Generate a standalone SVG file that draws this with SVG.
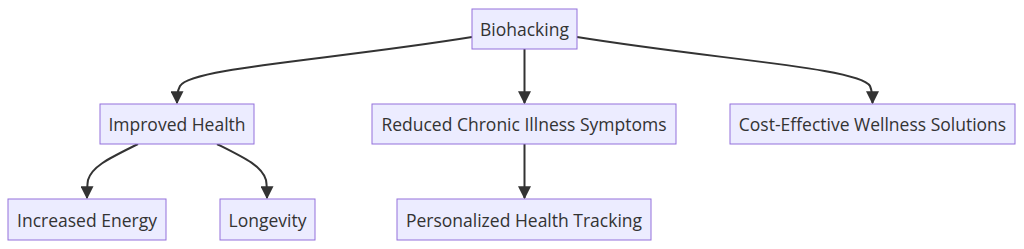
<svg xmlns="http://www.w3.org/2000/svg" width="1024" height="249" viewBox="0 0 1024 249">
<style>
.node rect{fill:#ECECFF;stroke:#9370DB;stroke-width:1}
.node text{font-family:"Open Sans","Noto Sans","DejaVu Sans",sans-serif;font-size:17.5px;fill:#333;text-anchor:middle;dominant-baseline:central}
.edge{fill:none;stroke:#333;stroke-width:2;marker-end:url(#arrow)}
</style>
<defs>
<marker id="arrow" viewBox="0 0 10 10" refX="9" refY="5" markerUnits="userSpaceOnUse" markerWidth="13" markerHeight="13" orient="auto">
<path d="M0,0 L10,5 L0,10 z" fill="#333"/>
</marker>
</defs>
<rect width="1024" height="249" fill="#fff"/>
<g id="edges">
<path class="edge" d="M472,37 C330,60 190,68 180,86 C177,92 177,96 177,103"/>
<path class="edge" d="M524.5,49 L524.5,103"/>
<path class="edge" d="M577,37 C720,60 860,68 870,86 C872.5,92 872.5,96 872.5,103"/>
<path class="edge" d="M138,144 C110,158 92,166 88,180 C87,186 87,192 87,198"/>
<path class="edge" d="M217,144 C245,158 262,166 266,180 C267,186 267,192 267,198"/>
<path class="edge" d="M524.5,144 L524.5,198"/>
</g>
<g id="n-biohacking" class="node"><rect x="472" y="9" width="105" height="40"/><text x="524.5" y="29">Biohacking</text></g>
<g id="n-improved" class="node"><rect x="100" y="104" width="154" height="40"/><text x="177" y="124">Improved Health</text></g>
<g id="n-reduced" class="node"><rect x="372" y="104" width="304" height="40"/><text x="524" y="124">Reduced Chronic Illness Symptoms</text></g>
<g id="n-cost" class="node"><rect x="730" y="104" width="285" height="40"/><text x="872.5" y="124">Cost-Effective Wellness Solutions</text></g>
<g id="n-energy" class="node"><rect x="8" y="199" width="158" height="41"/><text x="87" y="219.5">Increased Energy</text></g>
<g id="n-longevity" class="node"><rect x="220" y="199" width="95" height="41"/><text x="267.5" y="219.5">Longevity</text></g>
<g id="n-tracking" class="node"><rect x="397" y="199" width="254" height="41"/><text x="524" y="219.5">Personalized Health Tracking</text></g>
</svg>
